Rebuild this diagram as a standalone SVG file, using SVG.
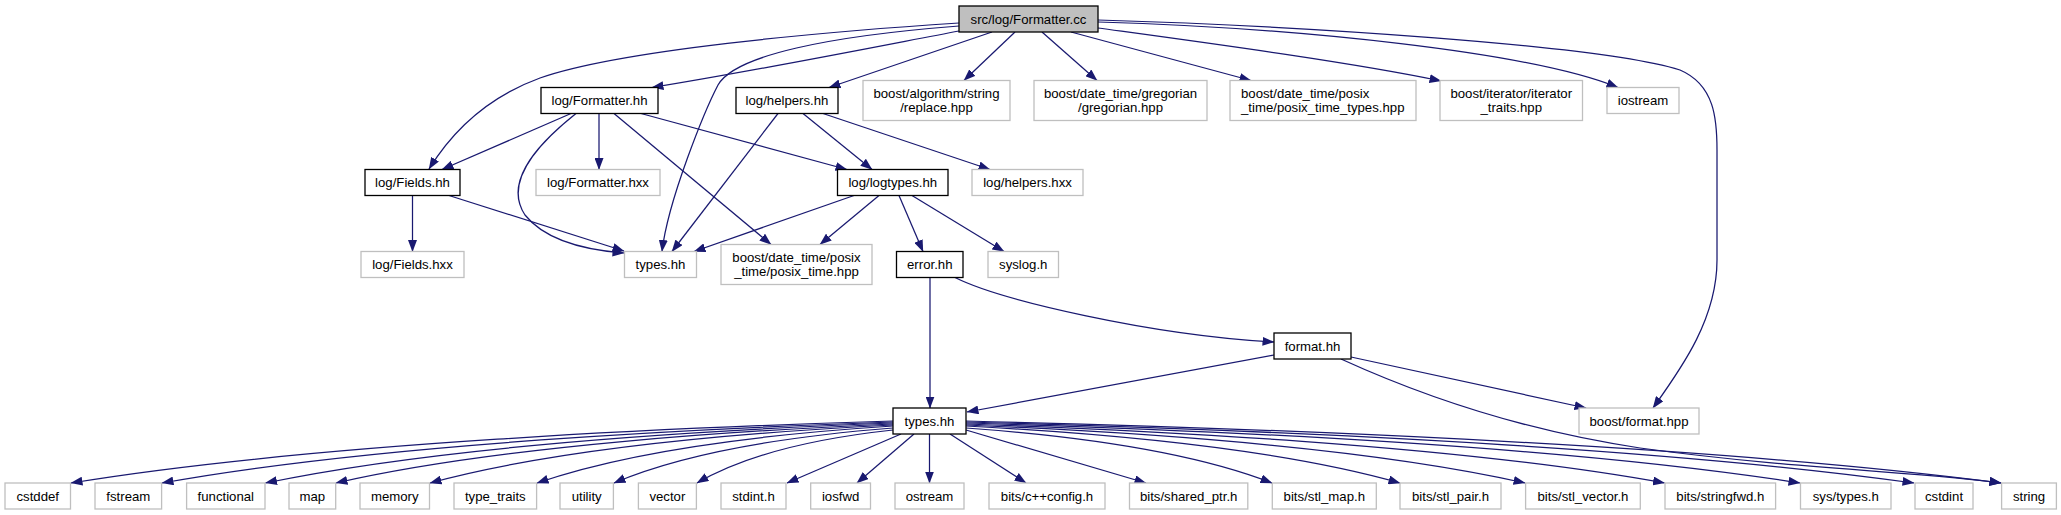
<svg xmlns="http://www.w3.org/2000/svg" width="2061" height="515" viewBox="0 0 2061 515">
<defs>
<style>
rect{fill:#fff;stroke:#bfbfbf;stroke-width:1.3}
.d rect{stroke:#000}
.r rect{fill:#bfbfbf;stroke:#000}
text{font-family:"Liberation Sans",Arial,Helvetica,sans-serif;font-size:13.2px;text-anchor:middle;fill:#000}
text.l{text-anchor:start}
#edges path{fill:none;stroke:#191970;stroke-width:1.25;marker-end:url(#a)}
</style>
<marker id="a" markerUnits="userSpaceOnUse" markerWidth="12" markerHeight="9" viewBox="0 0 12 9" refX="11.5" refY="4.5" orient="auto">
<path d="M0,0L12,4.5L0,9z" fill="#191970"/>
</marker>
</defs>
<rect x="0" y="0" width="2061" height="515" style="fill:#fff;stroke:none"/>
<g id="edges">
<path d="M959,23 C820,32 620,50 540,78 C485,98 450,135 429,169"/>
<path d="M959,31 C880,46 760,70 652,87.5"/>
<path d="M959,26 C830,36 735,55 718,85 C705,110 668,200 662,251.5"/>
<path d="M992,32 L829,87.5"/>
<path d="M1015,32 L964,80.5"/>
<path d="M1042,32 L1097,80.5"/>
<path d="M1071,32 L1251,80.5"/>
<path d="M1098,28 C1200,42 1350,62 1441,81"/>
<path d="M1098,22 C1300,28 1530,52 1618,87.5"/>
<path d="M1098,20 C1300,26 1600,45 1680,70 C1715,85 1717,120 1717,150 L1717,260 C1717,320 1680,370 1653,408"/>
<path d="M571,113.5 L442,169.5"/>
<path d="M576,113.5 C530,150 505,185 525,215 C545,240 585,250 624,253"/>
<path d="M599,113.5 L599,169.5"/>
<path d="M614,113.5 L771,244.5"/>
<path d="M641,113.5 L847,169.5"/>
<path d="M778,113.5 L672,251.5"/>
<path d="M803,113.5 L872,169.5"/>
<path d="M823,113.5 L990,169.5"/>
<path d="M412.5,195.5 L412.5,251.5"/>
<path d="M449,195.5 L624,251"/>
<path d="M854,195.5 L694,251.5"/>
<path d="M879,195.5 L820,244.5"/>
<path d="M899,195.5 L923,251.5"/>
<path d="M912,195.5 L1004,251.5"/>
<path d="M930,277.5 L930,408"/>
<path d="M955,277.5 C1000,300 1150,335 1274,342"/>
<path d="M1274,355 L967,412"/>
<path d="M1351,357 L1586,408"/>
<path d="M1341,359 C1420,395 1520,430 1640,448 C1800,470 1930,472 2001,483"/>
<path d="M893,421 C687.5,427.2 317.6,442.7 71,483"/>
<path d="M893,422 C710.3,428.1 381.3,443.4 162,483"/>
<path d="M893,423 C736.1,429 453.8,444 265.5,483"/>
<path d="M893,424 C753.8,429.9 503.1,444.7 336,483"/>
<path d="M893,425 C777.3,430.8 568.9,445.3 430,483"/>
<path d="M893,426 C804,431.7 643.8,446 537,483"/>
<path d="M893,428 C823.3,433.5 697.7,447.3 614,483"/>
<path d="M893,430 C844,435.3 755.8,448.6 697,483"/>
<path d="M901,434 L787,483"/>
<path d="M914,434 L857,483"/>
<path d="M929.5,434 L929.5,483"/>
<path d="M950,434 L1026,483"/>
<path d="M966,430 L1146,483"/>
<path d="M966,428 C1042.5,433.5 1180.2,447.3 1272,483"/>
<path d="M966,426 C1074.5,431.7 1269.8,446 1400,483"/>
<path d="M966,425 C1105.8,430.8 1357.3,445.3 1525,483"/>
<path d="M966,424 C1140.6,429.9 1455,444.7 1664.5,483"/>
<path d="M966,423 C1174.5,429 1549.8,444 1800,483"/>
<path d="M966,422 C1203,428.1 1629.6,443.4 1914,483"/>
<path d="M966,421 C1224.8,427.2 1690.5,442.7 2001,483"/>
</g>
<g id="n-root" class="r"><rect x="959" y="6" width="139" height="26"/><text x="1028.5" y="23.5">src/log/Formatter.cc</text></g>
<g id="n-formatter-hh" class="d"><rect x="541" y="87.5" width="117" height="26"/><text x="599.5" y="105">log/Formatter.hh</text></g>
<g id="n-helpers-hh" class="d"><rect x="736" y="87.5" width="102" height="26"/><text x="787" y="105">log/helpers.hh</text></g>
<g id="n-replace"><rect x="863" y="80.5" width="147" height="40"/><text x="936.5" y="98">boost/algorithm/string</text><text x="936.5" y="112">/replace.hpp</text></g>
<g id="n-gregorian"><rect x="1034" y="80.5" width="173" height="40"/><text x="1120.5" y="98">boost/date_time/gregorian</text><text x="1120.5" y="112">/gregorian.hpp</text></g>
<g id="n-posix-types"><rect x="1230" y="80.5" width="186" height="40"/><text class="l" x="1241" y="98">boost/date_time/posix</text><text class="l" x="1241" y="112">_time/posix_time_types.hpp</text></g>
<g id="n-iterator"><rect x="1440" y="80.5" width="142.5" height="40"/><text x="1511.25" y="98">boost/iterator/iterator</text><text x="1511.25" y="112">_traits.hpp</text></g>
<g id="n-iostream"><rect x="1607" y="87.5" width="72" height="26"/><text x="1643" y="105">iostream</text></g>
<g id="n-fields-hh" class="d"><rect x="365" y="169.5" width="95" height="26"/><text x="412.5" y="187">log/Fields.hh</text></g>
<g id="n-formatter-hxx"><rect x="536" y="169.5" width="124" height="26"/><text x="598" y="187">log/Formatter.hxx</text></g>
<g id="n-logtypes" class="d"><rect x="837.5" y="169.5" width="110.5" height="26"/><text x="892.75" y="187">log/logtypes.hh</text></g>
<g id="n-helpers-hxx"><rect x="972" y="169.5" width="111" height="26"/><text x="1027.5" y="187">log/helpers.hxx</text></g>
<g id="n-fields-hxx"><rect x="361" y="251.5" width="103" height="26"/><text x="412.5" y="269">log/Fields.hxx</text></g>
<g id="n-types-hh-1"><rect x="624.5" y="251.5" width="72" height="26"/><text x="660.5" y="269">types.hh</text></g>
<g id="n-posix-time"><rect x="721" y="244.5" width="151" height="40"/><text x="796.5" y="262">boost/date_time/posix</text><text x="796.5" y="276">_time/posix_time.hpp</text></g>
<g id="n-error" class="d"><rect x="896.5" y="251.5" width="66.5" height="26"/><text x="929.75" y="269">error.hh</text></g>
<g id="n-syslog"><rect x="988" y="251.5" width="70.5" height="26"/><text x="1023.25" y="269">syslog.h</text></g>
<g id="n-format-hh" class="d"><rect x="1274" y="333" width="77" height="26"/><text x="1312.5" y="350.5">format.hh</text></g>
<g id="n-types-hh-2" class="d"><rect x="893" y="408" width="73" height="26"/><text x="929.5" y="425.5">types.hh</text></g>
<g id="n-boost-format"><rect x="1579" y="408" width="120" height="26"/><text x="1639" y="425.5">boost/format.hpp</text></g>
<g id="n-cstddef"><rect x="5" y="483" width="65.5" height="26"/><text x="37.75" y="500.5">cstddef</text></g>
<g id="n-fstream"><rect x="95" y="483" width="66.6" height="26"/><text x="128.3" y="500.5">fstream</text></g>
<g id="n-functional"><rect x="186.6" y="483" width="78.4" height="26"/><text x="225.8" y="500.5">functional</text></g>
<g id="n-map"><rect x="289" y="483" width="46.7" height="26"/><text x="312.35" y="500.5">map</text></g>
<g id="n-memory"><rect x="360" y="483" width="69.5" height="26"/><text x="394.75" y="500.5">memory</text></g>
<g id="n-type-traits"><rect x="454" y="483" width="82.6" height="26"/><text x="495.3" y="500.5">type_traits</text></g>
<g id="n-utility"><rect x="560" y="483" width="53.4" height="26"/><text x="586.7" y="500.5">utility</text></g>
<g id="n-vector"><rect x="638.4" y="483" width="58" height="26"/><text x="667.4" y="500.5">vector</text></g>
<g id="n-stdint-h"><rect x="721" y="483" width="65" height="26"/><text x="753.5" y="500.5">stdint.h</text></g>
<g id="n-iosfwd"><rect x="810.7" y="483" width="59.8" height="26"/><text x="840.6" y="500.5">iosfwd</text></g>
<g id="n-ostream"><rect x="895" y="483" width="69" height="26"/><text x="929.5" y="500.5">ostream</text></g>
<g id="n-cxxconfig"><rect x="989" y="483" width="116" height="26"/><text x="1047" y="500.5">bits/c++config.h</text></g>
<g id="n-shared-ptr"><rect x="1129.5" y="483" width="118.3" height="26"/><text x="1188.65" y="500.5">bits/shared_ptr.h</text></g>
<g id="n-stl-map"><rect x="1272.3" y="483" width="104" height="26"/><text x="1324.3" y="500.5">bits/stl_map.h</text></g>
<g id="n-stl-pair"><rect x="1400" y="483" width="101" height="26"/><text x="1450.5" y="500.5">bits/stl_pair.h</text></g>
<g id="n-stl-vector"><rect x="1525.6" y="483" width="114.7" height="26"/><text x="1582.95" y="500.5">bits/stl_vector.h</text></g>
<g id="n-stringfwd"><rect x="1665" y="483" width="110.6" height="26"/><text x="1720.3" y="500.5">bits/stringfwd.h</text></g>
<g id="n-sys-types"><rect x="1800.5" y="483" width="90.5" height="26"/><text x="1845.75" y="500.5">sys/types.h</text></g>
<g id="n-cstdint"><rect x="1915" y="483" width="58" height="26"/><text x="1944" y="500.5">cstdint</text></g>
<g id="n-string"><rect x="2001.6" y="483" width="54.8" height="26"/><text x="2029" y="500.5">string</text></g>
</svg>
